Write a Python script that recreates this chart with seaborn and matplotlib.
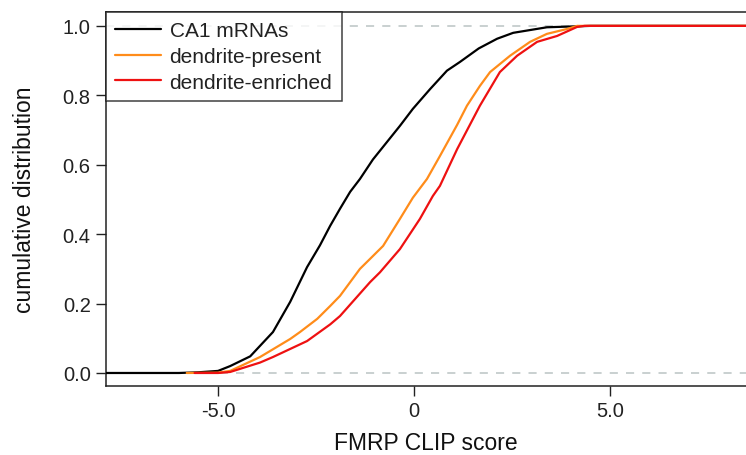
import numpy as np
import pandas as pd
import matplotlib
matplotlib.use("Agg")
import matplotlib.pyplot as plt
import seaborn as sns

# ---- data (FMRP CLIP score, cumulative fraction) ----
ca1_x = [-7.9, -6.0, -5.5, -5.0, -4.69, -4.18, -3.60, -3.16, -2.73, -2.40, -2.14,
         -1.89, -1.63, -1.38, -1.05, -0.36, -0.03, 0.41, 0.84, 1.17, 1.65, 2.12,
         2.53, 3.39, 4.5, 8.5]
ca1_y = [0.0, 0.0, 0.002, 0.006, 0.02, 0.048, 0.118, 0.205, 0.305, 0.368, 0.424,
         0.473, 0.522, 0.559, 0.615, 0.712, 0.761, 0.818, 0.871, 0.896, 0.935, 0.963,
         0.980, 0.996, 1.0, 1.0]

present_x = [-5.8, -5.0, -4.69, -3.93, -3.16, -2.91, -2.47, -2.14, -1.89, -1.38,
             -1.12, -0.79, -0.36, -0.03, 0.33, 0.66, 1.10, 1.35, 1.68, 1.94, 2.45,
             2.96, 3.39, 3.90, 4.16, 8.5]
present_y = [0.0, 0.001, 0.006, 0.046, 0.098, 0.118, 0.156, 0.193, 0.222, 0.300,
             0.329, 0.366, 0.444, 0.505, 0.559, 0.625, 0.715, 0.770, 0.827, 0.867, 0.914,
             0.954, 0.977, 0.991, 1.0, 1.0]

enriched_x = [-5.6, -5.0, -4.69, -3.93, -3.60, -2.73, -2.14, -1.89, -1.12, -0.87,
              -0.36, 0.15, 0.48, 0.66, 1.10, 1.68, 2.19, 2.63, 3.14, 3.65, 4.16,
              4.35, 8.5]
enriched_y = [0.0, 0.0, 0.003, 0.030, 0.046, 0.092, 0.140, 0.164, 0.262, 0.290,
              0.357, 0.444, 0.510, 0.539, 0.645, 0.770, 0.867, 0.914, 0.954, 0.971, 0.997,
              1.0, 1.0]

series_names = ["CA1 mRNAs", "dendrite-present", "dendrite-enriched"]
series_colors = ["#000000", "#ff8c1a", "#ee1111"]

x_ticks = [-5.0, 0.0, 5.0]
x_tick_labels = ["-5.0", "0", "5.0"]
y_ticks = [0.0, 0.2, 0.4, 0.6, 0.8, 1.0]
y_tick_labels = ["0.0", "0.2", "0.4", "0.6", "0.8", "1.0"]

# ---- build long table ----
frames = []
for name, xs, ys in zip(series_names, [ca1_x, present_x, enriched_x],
                        [ca1_y, present_y, enriched_y]):
    frames.append(pd.DataFrame({"score": xs, "cdf": ys, "group": name}))
df = pd.concat(frames, ignore_index=True)

sns.set_theme(style="white")
plt.rcParams["font.family"] = ["Liberation Sans", "DejaVu Sans"]

W, H = 746, 456
fig = plt.figure(figsize=(W / 100, H / 100), dpi=100)
ax = fig.add_axes([106 / W, (H - 387) / H, (W - 106) / W, (387 - 13) / H])

# reference dashed lines
ax.axhline(0.0, color="#c5cdcd", lw=1.3, ls=(0, (4.5, 4.5)), zorder=1)
ax.axhline(1.0, color="#c5cdcd", lw=1.3, ls=(0, (4.5, 4.5)), zorder=1)

sns.lineplot(data=df, x="score", y="cdf", hue="group", hue_order=series_names,
             palette=dict(zip(series_names, series_colors)), sort=False,
             estimator=None, linewidth=1.6, ax=ax, zorder=3)

ax.set_xlim(-7.86, 8.47)
ax.set_ylim(-0.0375, 1.040)
ax.set_xticks(x_ticks)
ax.set_xticklabels(x_tick_labels)
ax.set_yticks(y_ticks)
ax.set_yticklabels(y_tick_labels)
ax.tick_params(axis="both", direction="out", length=7, width=1.0, color="#222222",
               labelsize=14.5, labelcolor="#222222", pad=4,
               bottom=True, left=True)

for side in ["left", "bottom", "top"]:
    ax.spines[side].set_visible(True)
    ax.spines[side].set_color("#222222")
    ax.spines[side].set_linewidth(1.1)
ax.spines["right"].set_visible(False)

ax.set_xlabel("FMRP CLIP score", fontsize=16.5, color="#111111", labelpad=8)
ax.set_ylabel("cumulative distribution", fontsize=16.5, color="#111111", labelpad=19)

leg = ax.legend(loc="upper left", bbox_to_anchor=(0.0, 1.0), frameon=True,
                fontsize=15, handlelength=2.2, handletextpad=0.4,
                labelspacing=0.32, borderpad=0.45, borderaxespad=0.0,
                fancybox=False, title=None)
leg.get_frame().set_edgecolor("#111111")
leg.get_frame().set_linewidth(1.1)
for line in leg.get_lines():
    line.set_linewidth(1.6)
for t in leg.get_texts():
    t.set_color("#222222")

fig.savefig("out.png", dpi=100)
